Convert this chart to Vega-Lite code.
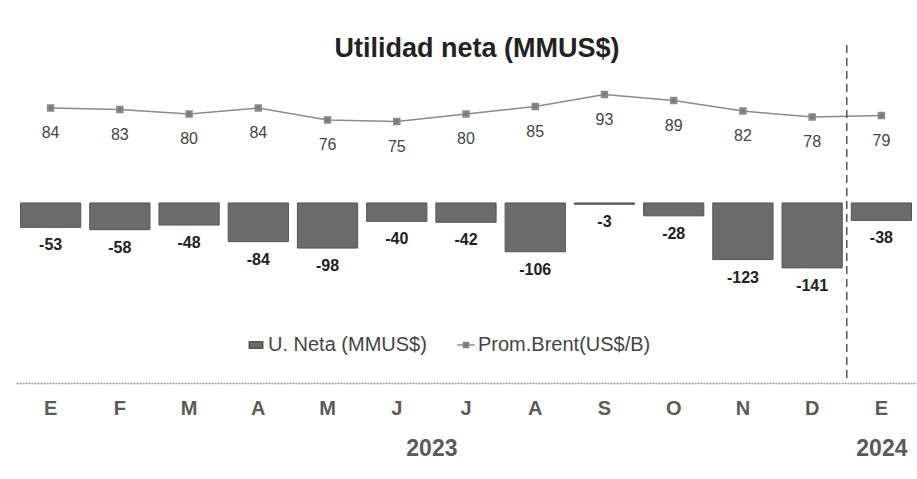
{
  "$schema": "https://vega.github.io/schema/vega-lite/v6.json",
  "width": 900,
  "height": 338,
  "autosize": "none",
  "padding": {"left": 16, "top": 45, "right": 1, "bottom": 96},
  "background": "white",
  "title": {"text": "Utilidad neta (MMUS$)", "fontSize": 27, "fontWeight": "bold", "color": "#222", "anchor": "middle", "offset": -19, "dx": 11},
  "datasets": {
    "main": [
      {"id": "E23", "U": -53, "Brent": 84},
      {"id": "F23", "U": -58, "Brent": 83},
      {"id": "M23a", "U": -48, "Brent": 80},
      {"id": "A23a", "U": -84, "Brent": 84},
      {"id": "M23b", "U": -98, "Brent": 76},
      {"id": "J23a", "U": -40, "Brent": 75},
      {"id": "J23b", "U": -42, "Brent": 80},
      {"id": "A23b", "U": -106, "Brent": 85},
      {"id": "S23", "U": -3, "Brent": 93},
      {"id": "O23", "U": -28, "Brent": 89},
      {"id": "N23", "U": -123, "Brent": 82},
      {"id": "D23", "U": -141, "Brent": 78},
      {"id": "E24", "U": -38, "Brent": 79}
    ],
    "sep": [{"pos": 12}]
  },
  "layer": [
    {
      "data": {"name": "main"},
      "encoding": {
        "x": {"field": "id", "type": "nominal", "sort": null,
              "scale": {"paddingInner": 0.13, "paddingOuter": 0.065},
              "axis": {"orient": "bottom", "title": null, "labelAngle": 0, "labelExpr": "substring(datum.label,0,1)",
                       "labelFontSize": 20, "labelFontWeight": "bold", "labelColor": "#5a5a5a", "labelPadding": 15,
                       "ticks": false, "domainColor": "#999", "domainDash": [2, 1], "domainWidth": 1.5}},
        "y": {"field": "U", "type": "quantitative", "scale": {"domain": [-391, 343]}, "axis": null}
      },
      "layer": [
        {"mark": {"type": "bar", "stroke": "#555", "strokeWidth": 1},
         "encoding": {"fill": {"datum": "U. Neta (MMUS$)", "scale": {"range": ["#6b6b6b"]},
                               "legend": {"orient": "none", "legendX": 230, "legendY": 290, "title": null, "symbolType": "M-1,-0.5H1V0.5H-1Z",
                                          "symbolSize": 180, "labelFontSize": 20, "labelColor": "#444", "labelOffset": 2, "labelLimit": 400}}}},
        {"mark": {"type": "text", "baseline": "top", "dy": 10, "fontSize": 16, "fontWeight": "bold", "color": "#222"},
         "encoding": {"text": {"field": "U", "type": "nominal"}}}
      ]
    },
    {
      "data": {"name": "main"},
      "encoding": {
        "x": {"field": "id", "type": "nominal", "sort": null,
              "scale": {"paddingInner": 0.13, "paddingOuter": 0.065}, "axis": null},
        "y": {"field": "Brent", "type": "quantitative", "scale": {"domain": [-99, 126]}, "axis": null}
      },
      "layer": [
        {"mark": {"type": "line", "strokeWidth": 1.5, "point": {"shape": "square", "size": 30, "filled": true, "color": "#777"}},
         "encoding": {"stroke": {"datum": "Prom.Brent(US$/B)", "scale": {"range": ["#8a8a8a"]},
                                 "legend": {"orient": "none", "legendX": 440, "legendY": 290, "title": null,
                                            "symbolType": "M-1,0H-0.3M0.3,0H1M-0.3,-0.3H0.3V0.3H-0.3Z", "symbolFillColor": "#666",
                                            "symbolStrokeWidth": 1.5, "symbolSize": 300, "labelFontSize": 20, "labelColor": "#444",
                                            "labelOffset": 2, "labelLimit": 400}}}},
        {"mark": {"type": "text", "baseline": "top", "dy": 17, "fontSize": 16, "color": "#444"},
         "encoding": {"text": {"field": "Brent", "type": "nominal"}}}
      ]
    },
    {
      "data": {"name": "sep"},
      "mark": {"type": "rule", "strokeDash": [8, 5], "strokeWidth": 1.5, "color": "#555"},
      "encoding": {
        "x": {"field": "pos", "type": "quantitative", "scale": {"domain": [0, 13], "nice": false, "zero": false},
              "axis": {"orient": "bottom", "title": null, "values": [6, 12.5],
                       "labelExpr": "datum.value == 6 ? '2023' : '2024'", "labelFontSize": 23, "labelFontWeight": "bold",
                       "labelColor": "#5a5a5a", "labelPadding": 54, "ticks": false, "domain": false, "grid": false}}
      }
    }
  ],
  "resolve": {"scale": {"x": "independent", "y": "independent"}, "axis": {"x": "independent"}},
  "config": {
    "view": {"stroke": null},
    "font": "Liberation Sans"
  }
}
